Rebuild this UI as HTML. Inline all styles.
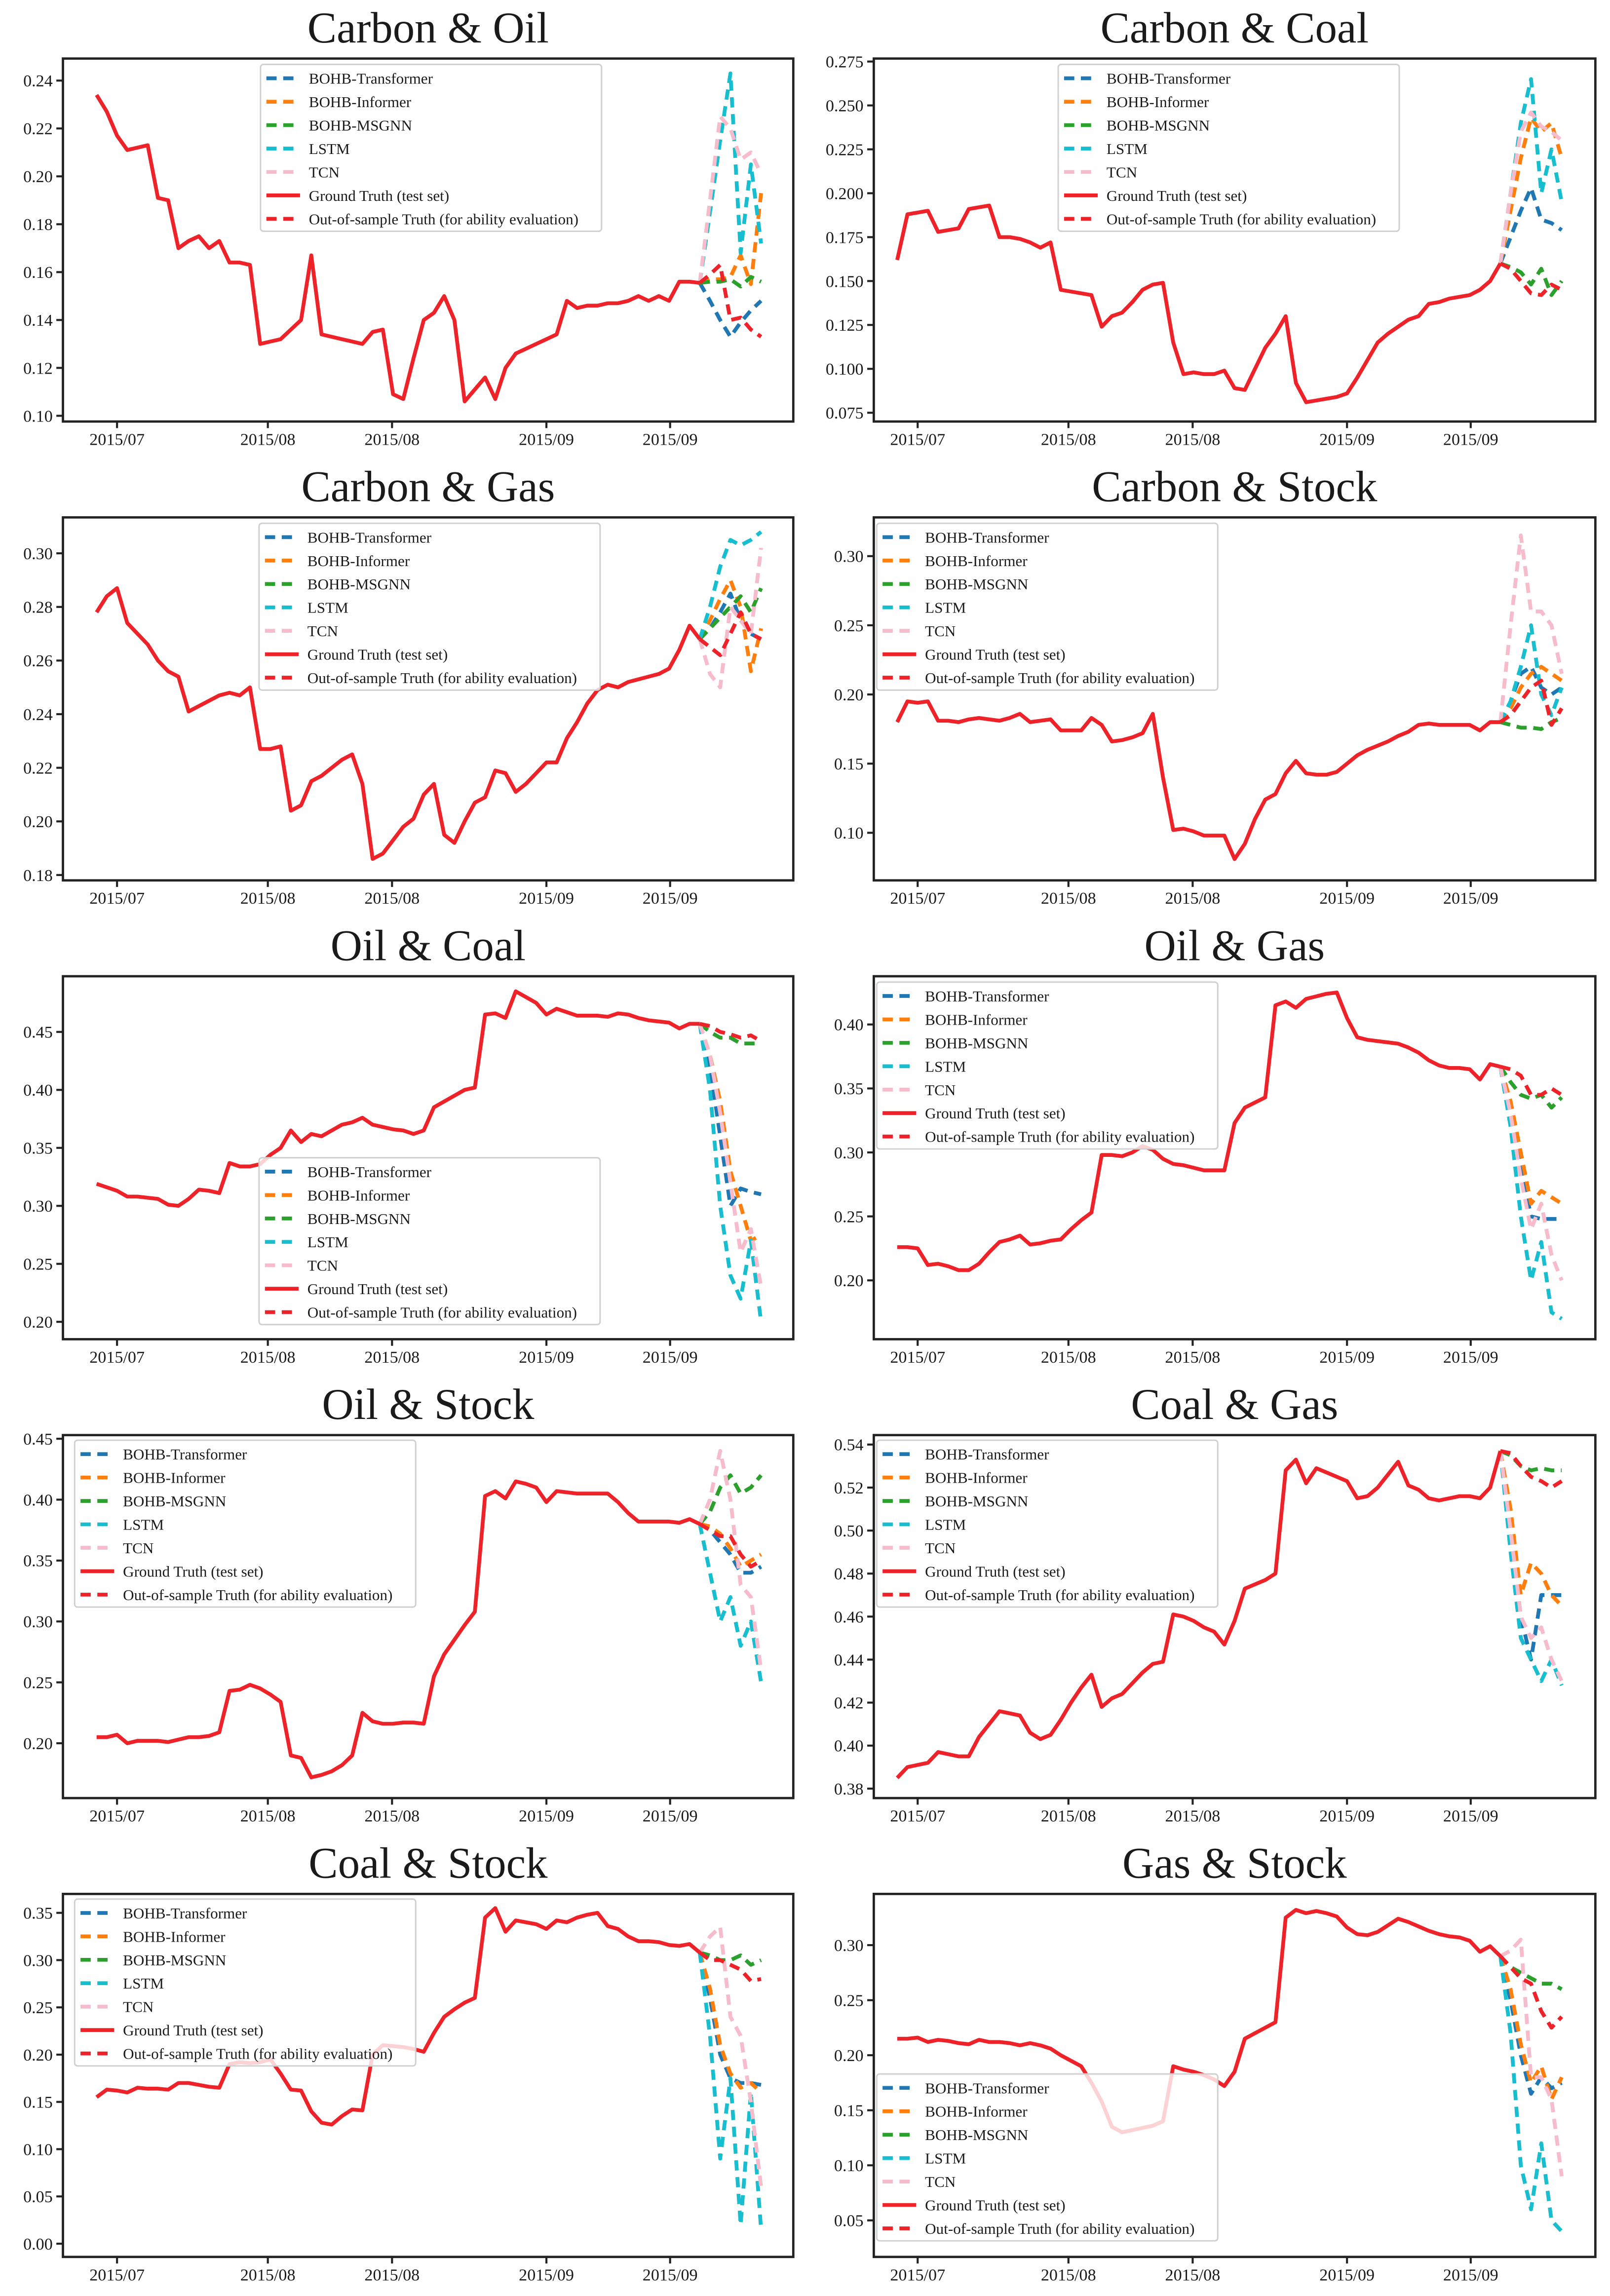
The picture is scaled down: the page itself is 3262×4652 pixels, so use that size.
<!DOCTYPE html>
<html><head><meta charset="utf-8">
<style>
html,body{margin:0;padding:0;background:#fff;}
svg{display:block;}
text{font-family:"Liberation Serif","DejaVu Serif",serif;fill:#1a1a1a;}
</style></head>
<body>
<svg id="fig" xmlns="http://www.w3.org/2000/svg" width="3262" height="4652" viewBox="0 0 1100 1568.7" preserveAspectRatio="none">
<rect x="0" y="0" width="1100" height="1568.7" fill="#fff"/>
</svg>
<script>
// ---- shared data ----
const dateTicks = [2, 16.75, 28.9, 44, 56.1];
const dateLabels = ['2015/07','2015/08','2015/08','2015/09','2015/09'];
const seriesNames = ['BOHB-Transformer','BOHB-Informer','BOHB-MSGNN','LSTM','TCN','Ground Truth (test set)','Out-of-sample Truth (for ability evaluation)'];

// ---- Carbon & Oil ----
const p1_truth = [.234,.227,.217,.211,.212,.213,.191,.190,.170,.173,.175,.170,.173,.164,.164,.163,.130,.131,.132,.136,.140,.167,.134,.133,.132,.131,.130,.135,.136,.109,.107,.124,.140,.143,.150,.140,.106,.111,.116,.107,.120,.126,.128,.130,.132,.134,.148,.145,.146,.146,.147,.147,.148,.150,.148,.150,.148,.156,.156,.1555];
const p1_transformer = [.1555,.148,.140,.133,.139,.144,.148];
const p1_informer = [.1555,.157,.157,.158,.167,.155,.193];
const p1_msgnn = [.1555,.156,.156,.157,.154,.158,.156];
const p1_lstm = [.1555,.185,.215,.243,.168,.205,.172];
const p1_tcn = [.1555,.19,.225,.220,.207,.210,.201];
const p1_oos = [.1555,.159,.163,.140,.141,.136,.133];
const p1_yticks = [.10,.12,.14,.16,.18,.20,.22,.24];

// ---- Carbon & Coal ----
const p2_truth = [.162,.188,.189,.190,.178,.179,.180,.191,.192,.193,.175,.175,.174,.172,.169,.172,.145,.144,.143,.142,.124,.130,.132,.138,.145,.148,.149,.115,.097,.098,.097,.097,.099,.089,.088,.100,.112,.120,.130,.092,.081,.082,.083,.084,.086,.095,.105,.115,.120,.124,.128,.130,.137,.138,.140,.141,.142,.145,.150,.160];
const p2_transformer = [.160,.175,.190,.203,.185,.183,.179];
const p2_informer = [.160,.19,.22,.243,.235,.240,.220];
const p2_msgnn = [.160,.158,.155,.148,.157,.142,.150];
const p2_lstm = [.160,.20,.24,.265,.200,.225,.195];
const p2_tcn = [.160,.20,.235,.246,.238,.235,.230];
const p2_oos = [.160,.157,.150,.143,.142,.148,.145];
const p2_yticks = [.075,.100,.125,.150,.175,.200,.225,.250,.275];

// ---- Carbon & Gas ----
const p3_truth = [.278,.284,.287,.274,.270,.266,.260,.256,.254,.241,.243,.245,.247,.248,.247,.250,.227,.227,.228,.204,.206,.215,.217,.220,.223,.225,.214,.186,.188,.193,.198,.201,.210,.214,.195,.192,.200,.207,.209,.219,.218,.211,.214,.218,.222,.222,.231,.237,.244,.249,.251,.250,.252,.253,.254,.255,.257,.264,.273,.268];
const p3_transformer = [.268,.272,.278,.285,.275,.270,.268];
const p3_informer = [.268,.275,.283,.290,.280,.256,.272];
const p3_msgnn = [.268,.272,.276,.280,.284,.278,.287];
const p3_lstm = [.268,.28,.295,.305,.303,.305,.308];
const p3_tcn = [.268,.255,.250,.280,.275,.270,.302];
const p3_oos = [.268,.265,.262,.270,.278,.270,.268];
const p3_yticks = [.18,.20,.22,.24,.26,.28,.30];

// ---- Carbon & Stock ----
const p4_truth = [.180,.195,.194,.195,.181,.181,.180,.182,.183,.182,.181,.183,.186,.180,.181,.182,.174,.174,.174,.183,.178,.166,.167,.169,.172,.186,.140,.102,.103,.101,.098,.098,.098,.081,.092,.110,.124,.128,.143,.152,.143,.142,.142,.144,.150,.156,.160,.163,.166,.170,.173,.178,.179,.178,.178,.178,.178,.174,.180,.180];
const p4_transformer = [.180,.195,.215,.220,.205,.200,.205];
const p4_informer = [.180,.19,.205,.215,.22,.215,.21];
const p4_msgnn = [.180,.178,.176,.176,.175,.180,.183];
const p4_lstm = [.180,.195,.22,.25,.20,.185,.205];
const p4_tcn = [.180,.25,.315,.26,.26,.25,.215];
const p4_oos = [.180,.185,.195,.205,.21,.178,.190];
const p4_yticks = [.10,.15,.20,.25,.30];

// ---- Oil & Coal ----
const p5_truth = [.319,.316,.313,.308,.308,.307,.306,.301,.300,.306,.314,.313,.311,.337,.334,.334,.336,.344,.350,.365,.355,.362,.360,.365,.370,.372,.376,.370,.368,.366,.365,.362,.365,.385,.390,.395,.400,.402,.465,.466,.462,.485,.480,.475,.465,.470,.467,.464,.464,.464,.463,.466,.465,.462,.460,.459,.458,.453,.457,.457];
const p5_transformer = [.457,.42,.36,.30,.315,.312,.310];
const p5_informer = [.457,.43,.39,.33,.30,.27,.275];
const p5_msgnn = [.457,.45,.445,.445,.44,.44,.44];
const p5_lstm = [.457,.40,.30,.24,.22,.27,.20];
const p5_tcn = [.457,.43,.38,.32,.26,.28,.23];
const p5_oos = [.457,.455,.45,.448,.445,.447,.442];
const p5_yticks = [.20,.25,.30,.35,.40,.45];

// ---- Oil & Gas ----
const p6_truth = [.226,.226,.225,.212,.213,.211,.208,.208,.213,.222,.230,.232,.235,.228,.229,.231,.232,.240,.247,.253,.298,.298,.297,.300,.305,.302,.295,.291,.290,.288,.286,.286,.286,.323,.335,.339,.343,.415,.418,.413,.420,.422,.424,.425,.405,.390,.388,.387,.386,.385,.382,.378,.372,.368,.366,.366,.365,.357,.369,.367];
const p6_transformer = [.367,.33,.29,.25,.248,.248,.248];
const p6_informer = [.367,.34,.30,.26,.27,.265,.26];
const p6_msgnn = [.367,.355,.345,.342,.345,.335,.343];
const p6_lstm = [.367,.32,.25,.20,.23,.175,.17];
const p6_tcn = [.367,.33,.28,.24,.26,.22,.20];
const p6_oos = [.367,.365,.36,.345,.345,.35,.345];
const p6_yticks = [.20,.25,.30,.35,.40];

// ---- Oil & Stock ----
const p7_truth = [.205,.205,.207,.200,.202,.202,.202,.201,.203,.205,.205,.206,.209,.243,.244,.248,.245,.240,.234,.190,.188,.172,.174,.177,.182,.190,.225,.218,.216,.216,.217,.217,.216,.255,.273,.285,.297,.308,.403,.407,.401,.415,.413,.410,.398,.407,.406,.405,.405,.405,.405,.398,.389,.382,.382,.382,.382,.381,.384,.380];
const p7_transformer = [.380,.375,.365,.355,.340,.340,.345];
const p7_informer = [.380,.378,.372,.360,.345,.350,.355];
const p7_msgnn = [.380,.39,.41,.42,.405,.41,.42];
const p7_lstm = [.380,.34,.30,.32,.28,.30,.25];
const p7_tcn = [.380,.40,.44,.40,.33,.32,.26];
const p7_oos = [.380,.375,.37,.37,.355,.345,.350];
const p7_yticks = [.20,.25,.30,.35,.40,.45];

// ---- Coal & Gas ----
const p8_truth = [.385,.390,.391,.392,.397,.396,.395,.395,.404,.410,.416,.415,.414,.406,.403,.405,.412,.420,.427,.433,.418,.422,.424,.429,.434,.438,.439,.461,.460,.458,.455,.453,.447,.458,.473,.475,.477,.480,.528,.533,.522,.529,.527,.525,.523,.515,.516,.520,.526,.532,.521,.519,.515,.514,.515,.516,.516,.515,.520,.537];
const p8_transformer = [.537,.50,.46,.44,.47,.47,.47];
const p8_informer = [.537,.51,.47,.485,.48,.47,.465];
const p8_msgnn = [.537,.535,.530,.528,.529,.528,.528];
const p8_lstm = [.537,.49,.45,.44,.43,.44,.428];
const p8_tcn = [.537,.50,.46,.45,.455,.44,.43];
const p8_oos = [.537,.536,.530,.525,.523,.52,.523];
const p8_yticks = [.38,.40,.42,.44,.46,.48,.50,.52,.54];

// ---- Coal & Stock ----
const p9_truth = [.155,.163,.162,.160,.165,.164,.164,.163,.170,.170,.168,.166,.165,.190,.192,.191,.192,.195,.180,.163,.162,.140,.128,.126,.135,.142,.141,.200,.210,.209,.208,.206,.203,.223,.240,.248,.255,.260,.345,.355,.330,.342,.340,.338,.333,.342,.340,.345,.348,.350,.336,.333,.325,.320,.320,.319,.316,.315,.317,.308];
const p9_transformer = [.308,.26,.20,.175,.17,.17,.168];
const p9_informer = [.308,.27,.21,.18,.165,.17,.16];
const p9_msgnn = [.308,.305,.30,.30,.305,.295,.30];
const p9_lstm = [.308,.22,.09,.175,.02,.16,.015];
const p9_tcn = [.308,.325,.335,.24,.22,.15,.06];
const p9_oos = [.308,.30,.30,.295,.29,.278,.28];
const p9_yticks = [0,.05,.10,.15,.20,.25,.30,.35];

// ---- Gas & Stock ----
const p10_truth = [.215,.215,.216,.212,.214,.213,.211,.210,.214,.212,.212,.211,.209,.211,.209,.206,.200,.195,.190,.175,.158,.135,.130,.132,.134,.136,.140,.190,.187,.185,.182,.178,.172,.185,.215,.220,.225,.230,.325,.332,.329,.331,.329,.326,.316,.310,.309,.312,.318,.324,.321,.317,.313,.310,.308,.307,.304,.294,.299,.290];
const p10_transformer = [.290,.25,.20,.165,.18,.17,.175];
const p10_informer = [.290,.26,.21,.175,.19,.16,.18];
const p10_msgnn = [.290,.28,.275,.27,.265,.265,.26];
const p10_lstm = [.290,.22,.10,.06,.12,.05,.04];
const p10_tcn = [.290,.295,.305,.18,.18,.16,.09];
const p10_oos = [.290,.28,.27,.265,.24,.225,.235];
const p10_yticks = [.05,.10,.15,.20,.25,.30];

const NS = 'http://www.w3.org/2000/svg';
const svg = document.getElementById('fig');
const COLORS = ['#1f77b4','#ff7f0e','#2ca02c','#17becf','#f7bccb','#ee2229','#ee2229'];

function mk(tag, attrs, parent){
  const e = document.createElementNS(NS, tag);
  for (const k in attrs) e.setAttribute(k, attrs[k]);
  parent.appendChild(e);
  return e;
}

const panels = [
 {title:'Carbon & Oil', slug:'carbon-oil', col:0,row:0, lim:[0.0976,0.2492], yt:p1_yticks, dec:2, d:[p1_transformer,p1_informer,p1_msgnn,p1_lstm,p1_tcn,p1_truth,p1_oos], leg:[178,44]},
 {title:'Carbon & Coal', slug:'carbon-coal', col:1,row:0, lim:[0.070,0.2767], yt:p2_yticks, dec:3, d:[p2_transformer,p2_informer,p2_msgnn,p2_lstm,p2_tcn,p2_truth,p2_oos], leg:[723,44]},
 {title:'Carbon & Gas', slug:'carbon-gas', col:0,row:1, lim:[0.178,0.3134], yt:p3_yticks, dec:2, d:[p3_transformer,p3_informer,p3_msgnn,p3_lstm,p3_tcn,p3_truth,p3_oos], leg:[177,357.5]},
 {title:'Carbon & Stock', slug:'carbon-stock', col:1,row:1, lim:[0.0656,0.328], yt:p4_yticks, dec:2, d:[p4_transformer,p4_informer,p4_msgnn,p4_lstm,p4_tcn,p4_truth,p4_oos], leg:[599,357.5]},
 {title:'Oil & Coal', slug:'oil-coal', col:0,row:2, lim:[0.185,0.498], yt:p5_yticks, dec:2, d:[p5_transformer,p5_informer,p5_msgnn,p5_lstm,p5_tcn,p5_truth,p5_oos], leg:[177,791]},
 {title:'Oil & Gas', slug:'oil-gas', col:1,row:2, lim:[0.154,0.4377], yt:p6_yticks, dec:2, d:[p6_transformer,p6_informer,p6_msgnn,p6_lstm,p6_tcn,p6_truth,p6_oos], leg:[599,671]},
 {title:'Oil & Stock', slug:'oil-stock', col:0,row:3, lim:[0.155,0.453], yt:p7_yticks, dec:2, d:[p7_transformer,p7_informer,p7_msgnn,p7_lstm,p7_tcn,p7_truth,p7_oos], leg:[51,984]},
 {title:'Coal & Gas', slug:'coal-gas', col:1,row:3, lim:[0.3756,0.5444], yt:p8_yticks, dec:2, d:[p8_transformer,p8_informer,p8_msgnn,p8_lstm,p8_tcn,p8_truth,p8_oos], leg:[599,984]},
 {title:'Coal & Stock', slug:'coal-stock', col:0,row:4, lim:[-0.014,0.370], yt:p9_yticks, dec:2, d:[p9_transformer,p9_informer,p9_msgnn,p9_lstm,p9_tcn,p9_truth,p9_oos], leg:[51,1297.5]},
 {title:'Gas & Stock', slug:'gas-stock', col:1,row:4, lim:[0.0168,0.3465], yt:p10_yticks, dec:2, d:[p10_transformer,p10_informer,p10_msgnn,p10_lstm,p10_tcn,p10_truth,p10_oos], leg:[599,1417]}
];

const COLS = [{x0:43,x1:542,xa:66,xb:520},{x0:597,x1:1090,xa:613,xb:1067}];
const NIDX = 65;

panels.forEach((p, pi) => {
  const c = COLS[p.col];
  const y0 = 40 + 313.5*p.row, y1 = 288 + 313.5*p.row;
  const xs = i => c.xa + (c.xb - c.xa) * i / NIDX;
  const ys = v => y1 - (v - p.lim[0]) / (p.lim[1] - p.lim[0]) * (y1 - y0);

  const g = mk('g', {}, svg);
  
  

  const t = mk('text', {x:(c.x0+c.x1)/2, y:y0-11, 'text-anchor':'middle', 'font-size':30}, g);
  
  
  t.textContent = p.title;

  const cid = 'clip' + pi;
  const cp = mk('clipPath', {id:cid}, g);
  mk('rect', {x:c.x0, y:y0, width:c.x1-c.x0, height:y1-y0}, cp);

  const plot = mk('g', {'clip-path':'url(#'+cid+')'}, g);
  
  

  // forecasts first, then ground truth, then out-of-sample
  const order = [0,1,2,3,4,5,6];
  order.forEach(si => {
    const arr = p.d[si];
    const start = si === 5 ? 0 : 59;
    const pts = arr.map((v,k) => xs(start+k).toFixed(2) + ',' + ys(v).toFixed(2)).join(' ');
    const attrs = {points:pts, fill:'none', stroke:COLORS[si], 'stroke-width':2.6, 'stroke-linejoin':'round'};
    if (si !== 5) attrs['stroke-dasharray'] = '7,4.5';
    const pl = mk('polyline', attrs, plot);
    
    
  });

  // frame
  const fr = mk('rect', {x:c.x0, y:y0, width:c.x1-c.x0, height:y1-y0, fill:'none', stroke:'#222', 'stroke-width':1.6}, g);
  
  

  // y ticks
  p.yt.forEach(v => {
    const y = ys(v);
    const tk = mk('line', {x1:c.x0-4.5, x2:c.x0, y1:y, y2:y, stroke:'#222', 'stroke-width':1.4}, g);
    
    
    const tl = mk('text', {x:c.x0-7, y:y+4, 'text-anchor':'end', 'font-size':11.5}, g);
    
    
    tl.textContent = v.toFixed(p.dec);
  });

  // x ticks
  dateTicks.forEach((d, k) => {
    const x = xs(d);
    const tk = mk('line', {x1:x, x2:x, y1:y1, y2:y1+4.5, stroke:'#222', 'stroke-width':1.4}, g);
    
    
    const tl = mk('text', {x:x, y:y1+16, 'text-anchor':'middle', 'font-size':11.5}, g);
    
    
    tl.textContent = dateLabels[k];
  });

  // legend
  const lx = p.leg[0], ly = p.leg[1];
  const lg = mk('g', {}, g);
  
  
  mk('rect', {x:lx, y:ly, width:233, height:114, rx:2, fill:'#fff', 'fill-opacity':0.8, stroke:'#d0d0d0', 'stroke-width':1}, lg);
  seriesNames.forEach((nm, si) => {
    const ey = ly + 9.5 + si*16;
    const la = {x1:lx+4, x2:lx+27, y1:ey, y2:ey, stroke:COLORS[si], 'stroke-width':2.6};
    if (si !== 5) la['stroke-dasharray'] = '7,4.5';
    const ln = mk('line', la, lg);
    
    
    const lt = mk('text', {x:lx+33, y:ey+3.7, 'font-size':10.5}, lg);
    
    
    lt.textContent = nm;
  });
});
</script>
</body></html>
